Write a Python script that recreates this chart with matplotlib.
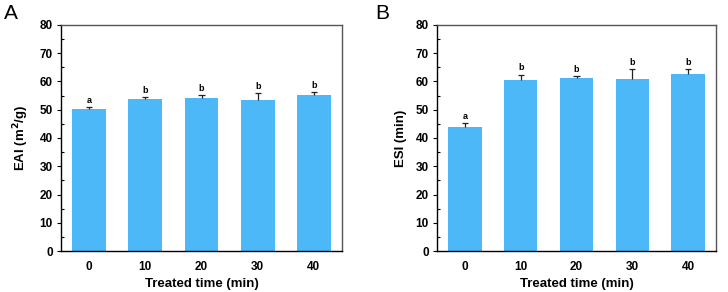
import matplotlib.pyplot as plt
from matplotlib.ticker import MultipleLocator

plt.rcParams['font.family'] = ['Liberation Sans', 'DejaVu Sans']

times = ['0', '10', '20', '30', '40']
eai = [50.2, 53.9, 54.0, 53.6, 55.1]
eai_err = [0.7, 0.6, 1.2, 2.4, 1.1]
eai_letters = ['a', 'b', 'b', 'b', 'b']
esi = [43.9, 60.4, 61.1, 60.9, 62.6]
esi_err = [1.4, 2.0, 0.7, 3.5, 1.8]
esi_letters = ['a', 'b', 'b', 'b', 'b']

bar_color = '#4DB8F8'

fig = plt.figure(figsize=(7.28, 2.92), dpi=100)
ax1 = fig.add_axes([0.0838, 0.1404, 0.386, 0.774])
ax2 = fig.add_axes([0.6003, 0.1404, 0.3832, 0.774])

def draw(ax, vals, errs, letters, ylabel):
    x = list(range(len(times)))
    ax.bar(x, vals, width=0.6, color=bar_color, zorder=2)
    # upper half error bars only
    tops = [v + e for v, e in zip(vals, errs)]
    ax.vlines(x, vals, tops, color='#222222', linewidth=0.9, zorder=3)
    ax.hlines(tops, [xi - 0.055 for xi in x], [xi + 0.055 for xi in x],
              color='#222222', linewidth=0.9, zorder=3)
    for xi, t, l in zip(x, tops, letters):
        ax.text(xi, t + 0.8, l, ha='center', va='bottom', fontsize=6.5, fontweight='bold')
    ax.set_xlim(-0.5, 4.5)
    ax.set_ylim(0, 80)
    ax.set_xticks(x)
    ax.set_xticklabels(times)
    ax.yaxis.set_major_locator(MultipleLocator(10))
    ax.yaxis.set_minor_locator(MultipleLocator(5))
    ax.tick_params(axis='x', length=0, labelsize=8.5, pad=7)
    ax.tick_params(axis='y', which='major', direction='out', length=3, labelsize=8.5, width=0.8, pad=3)
    ax.tick_params(axis='y', which='minor', direction='in', length=2, width=0.8)
    for lab in ax.get_xticklabels() + ax.get_yticklabels():
        lab.set_fontweight('bold')
    ax.set_xlabel('Treated time (min)', fontsize=9.5, fontweight='bold', labelpad=4)
    ax.set_ylabel(ylabel, fontsize=9.5, fontweight='bold', labelpad=6)
    for s in ['left', 'bottom']:
        ax.spines[s].set_linewidth(1.0)
        ax.spines[s].set_color('black')
    for s in ['top', 'right']:
        ax.spines[s].set_linewidth(1.0)
        ax.spines[s].set_color('#555555')

draw(ax1, eai, eai_err, eai_letters, 'EAI (m$^\\mathbf{2}$/g)')
draw(ax2, esi, esi_err, esi_letters, 'ESI (min)')

fig.text(0.005, 0.985, 'A', fontsize=15, va='top', ha='left')
fig.text(0.516, 0.985, 'B', fontsize=15, va='top', ha='left')

fig.savefig('out.png', dpi=100)
